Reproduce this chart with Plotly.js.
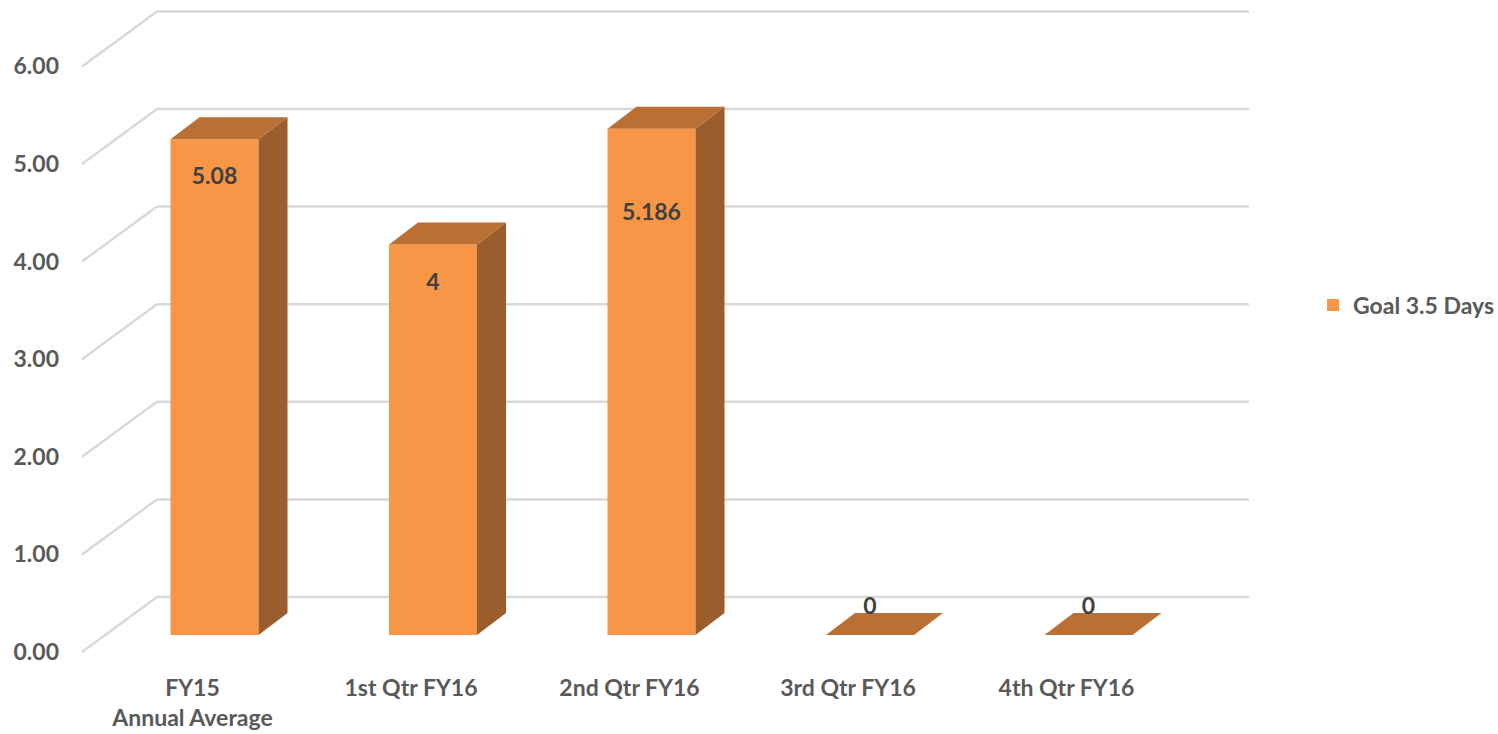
<!DOCTYPE html>
<html>
<head>
<meta charset="utf-8">
<script src="https://cdn.plot.ly/plotly-3.0.1.min.js"></script>
<style>
  html, body { margin: 0; padding: 0; background: #ffffff; }
  #chart { width: 1498px; height: 734px; }
</style>
</head>
<body>
<div id="chart"></div>
<script>
// Data
const categories = ['FY15<br>Annual Average', '1st Qtr FY16', '2nd Qtr FY16', '3rd Qtr FY16', '4th Qtr FY16'];
const goalDays = [5.08, 4, 5.186, 0, 0];
const valueLabels = ['5.08', '4', '5.186', '0', '0'];
const axisTicks = [0, 1, 2, 3, 4, 5, 6];
const seriesName = 'Goal 3.5 Days';

// Page geometry (pixels) used to build a faux-3D column view on a 2D plot
const W = 1498, H = 734;
const M = { l: 60, r: 238, t: 0, b: 69 };
const PX_PER_CAT = 218.5;   // horizontal spacing between columns
const PX_PER_UNIT = 97.6;   // vertical pixels per value unit
const X0 = 214.5;           // first column centre
const Y0 = 635;             // column base line
const BAR_W = 88;           // column front width
const DEPTH_X = 29, DEPTH_Y = 22;     // column depth offset
const FRONT_X = -22, FRONT_Y = -17;   // front edge of the floor relative to column front
const WALL_LEFT_FRONT = 82, WALL_LEFT_BACK = 157, WALL_RIGHT = 1249;
const WALL_BACK_Y = 38;     // back wall base above column base
const labelLiftPx = [-39, -40, -85, 27, 27];  // value label offset from column top

const FONT = 'Lato, "Open Sans", sans-serif';
const AXIS_GREY = '#595959';
const LABEL_GREY = '#404040';
const FRONT_COLOR = '#F79646';
const TOP_COLOR = '#BA6F34';
const SIDE_COLOR = '#9B5D2B';
const GRID_COLOR = '#D9D9D9';

const cx = px => (px - X0) / PX_PER_CAT;   // pixel position to x data units
const dxu = px => px / PX_PER_CAT;
const dyu = px => px / PX_PER_UNIT;

const idx = categories.map((_, i) => i);
const halfW = dxu(BAR_W) / 2;
const ddx = dxu(DEPTH_X), ddy = dyu(DEPTH_Y);

// Back wall and side wall grid lines
const shapes = [];
axisTicks.forEach(t => {
  const yFront = t + dyu(FRONT_Y);
  const yBack = t + dyu(WALL_BACK_Y);
  const line = { color: GRID_COLOR, width: 2.5 };
  shapes.push({ type: 'line', layer: 'below', xref: 'x', yref: 'y',
    x0: cx(WALL_LEFT_FRONT), y0: yFront, x1: cx(WALL_LEFT_BACK), y1: yBack, line });
  shapes.push({ type: 'line', layer: 'below', xref: 'x', yref: 'y',
    x0: cx(WALL_LEFT_BACK), y0: yBack, x1: cx(WALL_RIGHT), y1: yBack, line });
});

// Side and top faces of each column
const sideX = [], sideY = [], topX = [], topY = [];
idx.forEach(i => {
  const v = goalDays[i];
  const xl = i - halfW, xr = i + halfW;
  if (v > 0) {
    sideX.push(xr, xr + ddx, xr + ddx, xr, xr, null);
    sideY.push(0, ddy, v + ddy, v, 0, null);
  }
  topX.push(xl, xr, xr + ddx, xl + ddx, xl, null);
  topY.push(v, v, v + ddy, v + ddy, v, null);
});

const traces = [
  {
    type: 'bar', name: seriesName, x: idx, y: goalDays, width: dxu(BAR_W),
    marker: { color: FRONT_COLOR, line: { width: 0 } }, hoverinfo: 'y'
  },
  {
    type: 'scatter', mode: 'lines', x: sideX, y: sideY, fill: 'toself',
    fillcolor: SIDE_COLOR, line: { width: 0, color: SIDE_COLOR }, showlegend: false, hoverinfo: 'skip'
  },
  {
    type: 'scatter', mode: 'lines', x: topX, y: topY, fill: 'toself',
    fillcolor: TOP_COLOR, line: { width: 0, color: TOP_COLOR }, showlegend: false, hoverinfo: 'skip'
  },
  {
    type: 'scatter', mode: 'text', x: idx,
    y: goalDays.map((v, i) => v + dyu(labelLiftPx[i])),
    text: valueLabels, textposition: 'middle center',
    textfont: { family: FONT, size: 23, color: LABEL_GREY, weight: 700 },
    showlegend: false, hoverinfo: 'skip', cliponaxis: false
  }
];

const layout = {
  width: W, height: H,
  margin: M,
  paper_bgcolor: '#ffffff', plot_bgcolor: 'rgba(0,0,0,0)',
  showlegend: true,
  legend: {
    xref: 'container', yref: 'container', x: 1313 / W, y: 1 - 305 / H,
    xanchor: 'left', yanchor: 'middle',
    font: { family: FONT, size: 23, color: AXIS_GREY, weight: 700 },
    bgcolor: 'rgba(0,0,0,0)'
  },
  xaxis: {
    range: [cx(M.l), cx(W - M.r)],
    showgrid: false, zeroline: false, showline: false, ticks: '',
    tickvals: idx.map(i => i + dxu(FRONT_X)), ticktext: categories,
    ticklabelstandoff: 7,
    tickfont: { family: FONT, size: 23, color: AXIS_GREY, weight: 700 },
    fixedrange: true
  },
  yaxis: {
    range: [dyu(Y0 - (H - M.b)), dyu(Y0 - M.t)],
    showgrid: false, zeroline: false, showline: false, ticks: '',
    tickvals: axisTicks.map(t => t + dyu(FRONT_Y)),
    ticktext: axisTicks.map(t => t.toFixed(2)),
    tickfont: { family: FONT, size: 23, color: AXIS_GREY, weight: 700 },
    fixedrange: true
  },
  shapes: shapes
};

Plotly.newPlot('chart', traces, layout, { displayModeBar: false, staticPlot: true });
</script>
</body>
</html>
